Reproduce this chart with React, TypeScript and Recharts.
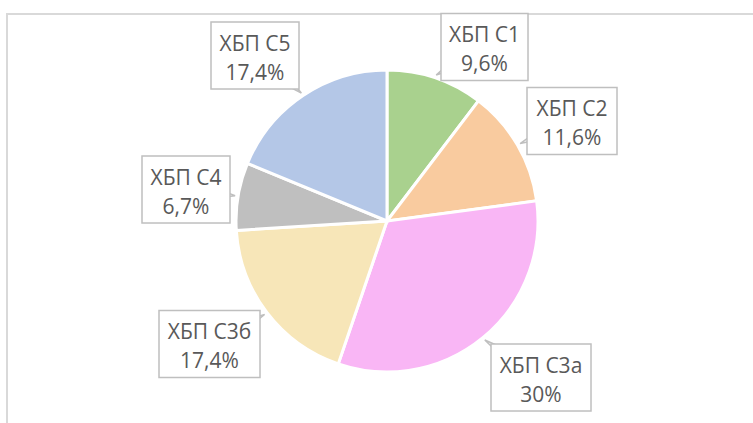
import React from "react";
import { PieChart, Pie, Cell } from "recharts";

const categories = ["ХБП С1", "ХБП С2", "ХБП С3а", "ХБП С3б", "ХБП С4", "ХБП С5"];
const values = [9.6, 11.6, 30, 17.4, 6.7, 17.4];
const colors = ["#a9d18e", "#f9cb9f", "#f9b6f5", "#f7e6b8", "#bfbfbf", "#b4c7e7"];
// label box placement relative to pie centre (layout only)
const labelDx = [97.5, 185, 154, -177.5, -201, -132];
const labelDy = [-174, -100, 156.5, 123, -31.5, -165.5];
const labelW = [87, 90, 100, 101, 88, 88];

const data = categories.map((c, i) => ({ name: c, value: values[i] }));

const fmt = (v: number) => String(v).replace(".", ",") + "%";

const RAD = Math.PI / 180;

const renderLabel = (props: any) => {
  const { cx, cy, midAngle, outerRadius, index } = props;
  const bx = cx + labelDx[index];
  const by = cy + labelDy[index];
  const w = labelW[index];
  const h = 67;
  const tx = cx + (outerRadius + 3) * Math.cos(-midAngle * RAD);
  const ty = cy + (outerRadius + 3) * Math.sin(-midAngle * RAD);
  const vx = tx - bx;
  const vy = ty - by;
  const len = Math.sqrt(vx * vx + vy * vy) || 1;
  const px = (-vy / len) * 12;
  const py = (vx / len) * 12;
  const pts = `${tx},${ty} ${bx + px},${by + py} ${bx - px},${by - py}`;
  return (
    <g key={`lbl-${index}`}>
      <polygon points={pts} fill="#ffffff" stroke="#bfbfbf" strokeWidth={1.5} />
      <rect x={bx - w / 2} y={by - h / 2} width={w} height={h} fill="#ffffff" stroke="#bfbfbf" strokeWidth={1.5} />
      <text
        x={bx}
        y={by - 5}
        textAnchor="middle"
        fill="#595959"
        fontSize={21}
        fontFamily="'Open Sans', sans-serif"
      >
        {categories[index]}
      </text>
      <text
        x={bx}
        y={by + 24}
        textAnchor="middle"
        fill="#595959"
        fontSize={21}
        fontFamily="'Open Sans', sans-serif"
      >
        {fmt(values[index])}
      </text>
    </g>
  );
};

export default function App() {
  return (
    <div style={{ position: "absolute", left: 0, top: 0, width: 753, height: 423, background: "#ffffff", overflow: "hidden" }}>
      <div
        style={{
          position: "absolute",
          left: 6,
          top: 13,
          width: 800,
          height: 500,
          borderTop: "2px solid #d9d9d9",
          borderLeft: "2px solid #d9d9d9",
        }}
      />
      <div style={{ position: "absolute", left: 0, top: 0 }}>
        <PieChart width={753} height={423} margin={{ top: 0, right: 0, bottom: 0, left: 0 }}>
          <Pie
            data={data}
            dataKey="value"
            nameKey="name"
            cx={387}
            cy={221}
            outerRadius={151}
            startAngle={90}
            endAngle={-270}
            stroke="#ffffff"
            strokeWidth={3}
            label={renderLabel}
            labelLine={false}
            isAnimationActive={false}
          >
            {data.map((d, i) => (
              <Cell key={d.name} fill={colors[i]} />
            ))}
          </Pie>
        </PieChart>
      </div>
    </div>
  );
}
